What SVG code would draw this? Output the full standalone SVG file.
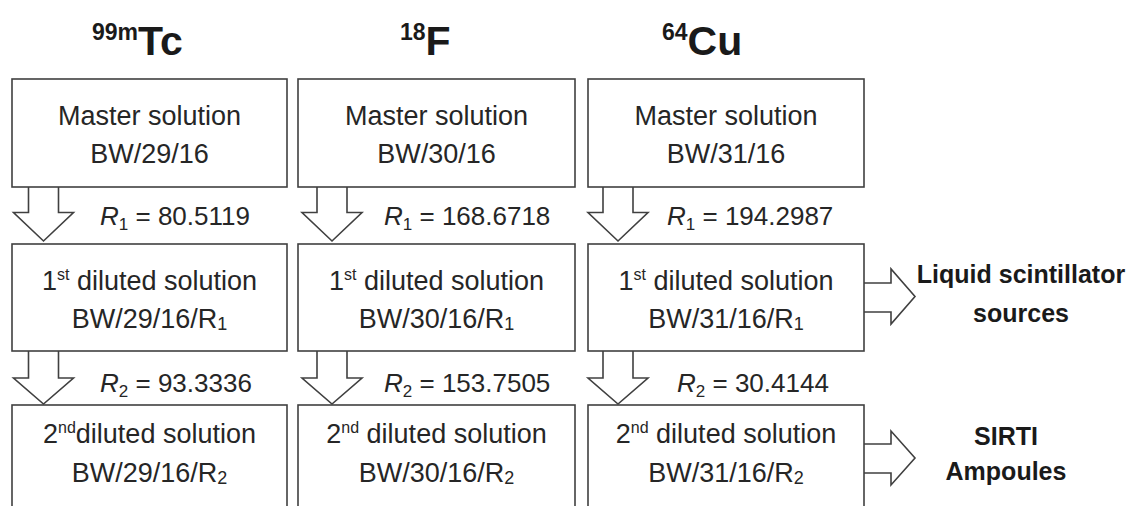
<svg xmlns="http://www.w3.org/2000/svg" width="1133" height="506" viewBox="0 0 1133 506">
<style>
text{font-family:"Liberation Sans",Arial,sans-serif;fill:#262626}
.body{font-size:27px;text-anchor:middle}
.lab{font-size:26px}
.hdr{font-weight:bold;fill:#1a1a1a}
.side{font-size:25px;font-weight:bold;text-anchor:middle;fill:#1a1a1a}
.box{fill:#fff;stroke:#404040;stroke-width:1.6}
.arr{fill:#fff;stroke:#404040;stroke-width:1.6;stroke-linejoin:miter}
</style>
<rect width="1133" height="506" fill="#fff"/>
<g id="headers">
<text class="hdr" x="92" y="55"><tspan font-size="23" dy="-15">99m</tspan><tspan font-size="41" dy="15">Tc</tspan></text>
<text class="hdr" x="400" y="55"><tspan font-size="23" dy="-15">18</tspan><tspan font-size="41" dy="15">F</tspan></text>
<text class="hdr" x="662" y="55"><tspan font-size="23" dy="-15">64</tspan><tspan font-size="41" dy="15">Cu</tspan></text>
</g>
<g id="connectors">
<path class="arr" d="M28.5,187 V212.5 H13.5 L43.5,241 L73.5,212.5 H58.5 V187"/>
<path class="arr" d="M317,187 V212.5 H302 L332,241 L362,212.5 H347 V187"/>
<path class="arr" d="M603,187 V212.5 H588 L618,241 L648,212.5 H633 V187"/>
<path class="arr" d="M28.5,351 V378 H13.5 L43.5,404 L73.5,378 H58.5 V351"/>
<path class="arr" d="M317,351 V378 H302 L332,404 L362,378 H347 V351"/>
<path class="arr" d="M603,351 V378 H588 L618,404 L648,378 H633 V351"/>
<path class="arr" d="M864,283 H891 V269 L915,296.5 L891,324 V312 H864"/>
<path class="arr" d="M864,444 H891 V431 L915,458 L891,485 V473 H864"/>
</g>
<g id="r-labels">
<text class="lab" x="100" y="225"><tspan font-style="italic">R</tspan><tspan font-size="17" dy="5">1</tspan><tspan dy="-5"> = 80.5119</tspan></text>
<text class="lab" x="384" y="225"><tspan font-style="italic">R</tspan><tspan font-size="17" dy="5">1</tspan><tspan dy="-5"> = 168.6718</tspan></text>
<text class="lab" x="667" y="225"><tspan font-style="italic">R</tspan><tspan font-size="17" dy="5">1</tspan><tspan dy="-5"> = 194.2987</tspan></text>
<text class="lab" x="100" y="392"><tspan font-style="italic">R</tspan><tspan font-size="17" dy="5">2</tspan><tspan dy="-5"> = 93.3336</tspan></text>
<text class="lab" x="384" y="392"><tspan font-style="italic">R</tspan><tspan font-size="17" dy="5">2</tspan><tspan dy="-5"> = 153.7505</tspan></text>
<text class="lab" x="677" y="392"><tspan font-style="italic">R</tspan><tspan font-size="17" dy="5">2</tspan><tspan dy="-5"> = 30.4144</tspan></text>
</g>
<g id="tc-master">
<rect class="box" x="12" y="79" width="275" height="108"/>
<text class="body" x="149.5" y="125">Master solution</text>
<text class="body" x="149.5" y="163">BW/29/16</text>
</g>
<g id="f-master">
<rect class="box" x="298" y="79" width="277" height="108"/>
<text class="body" x="436.5" y="125">Master solution</text>
<text class="body" x="436.5" y="163">BW/30/16</text>
</g>
<g id="cu-master">
<rect class="box" x="588" y="79" width="276" height="108"/>
<text class="body" x="726" y="125">Master solution</text>
<text class="body" x="726" y="163">BW/31/16</text>
</g>
<g id="tc-dil1">
<rect class="box" x="12" y="244" width="275" height="107"/>
<text class="body" x="149.5" y="290">1<tspan font-size="16" dy="-10">st</tspan><tspan dy="10"> diluted solution</tspan></text>
<text class="body" x="149.5" y="328">BW/29/16/R<tspan font-size="18" dy="2">1</tspan></text>
</g>
<g id="f-dil1">
<rect class="box" x="298" y="244" width="277" height="107"/>
<text class="body" x="436.5" y="290">1<tspan font-size="16" dy="-10">st</tspan><tspan dy="10"> diluted solution</tspan></text>
<text class="body" x="436.5" y="328">BW/30/16/R<tspan font-size="18" dy="2">1</tspan></text>
</g>
<g id="cu-dil1">
<rect class="box" x="588" y="244" width="276" height="107"/>
<text class="body" x="726" y="290">1<tspan font-size="16" dy="-10">st</tspan><tspan dy="10"> diluted solution</tspan></text>
<text class="body" x="726" y="328">BW/31/16/R<tspan font-size="18" dy="2">1</tspan></text>
</g>
<g id="tc-dil2">
<rect class="box" x="12" y="405" width="275" height="120"/>
<text class="body" x="149.5" y="443">2<tspan font-size="16" dy="-10">nd</tspan><tspan dy="10">diluted solution</tspan></text>
<text class="body" x="149.5" y="482">BW/29/16/R<tspan font-size="18" dy="2">2</tspan></text>
</g>
<g id="f-dil2">
<rect class="box" x="298" y="405" width="277" height="120"/>
<text class="body" x="436.5" y="443">2<tspan font-size="16" dy="-10">nd</tspan><tspan dy="10"> diluted solution</tspan></text>
<text class="body" x="436.5" y="482">BW/30/16/R<tspan font-size="18" dy="2">2</tspan></text>
</g>
<g id="cu-dil2">
<rect class="box" x="588" y="405" width="276" height="120"/>
<text class="body" x="726" y="443">2<tspan font-size="16" dy="-10">nd</tspan><tspan dy="10"> diluted solution</tspan></text>
<text class="body" x="726" y="482">BW/31/16/R<tspan font-size="18" dy="2">2</tspan></text>
</g>
<g id="liquid-scintillator">
<text class="side" x="1021" y="283">Liquid scintillator</text>
<text class="side" x="1021" y="322">sources</text>
</g>
<g id="sirti-ampoules">
<text class="side" x="1006" y="445">SIRTI</text>
<text class="side" x="1006" y="480">Ampoules</text>
</g>
</svg>
